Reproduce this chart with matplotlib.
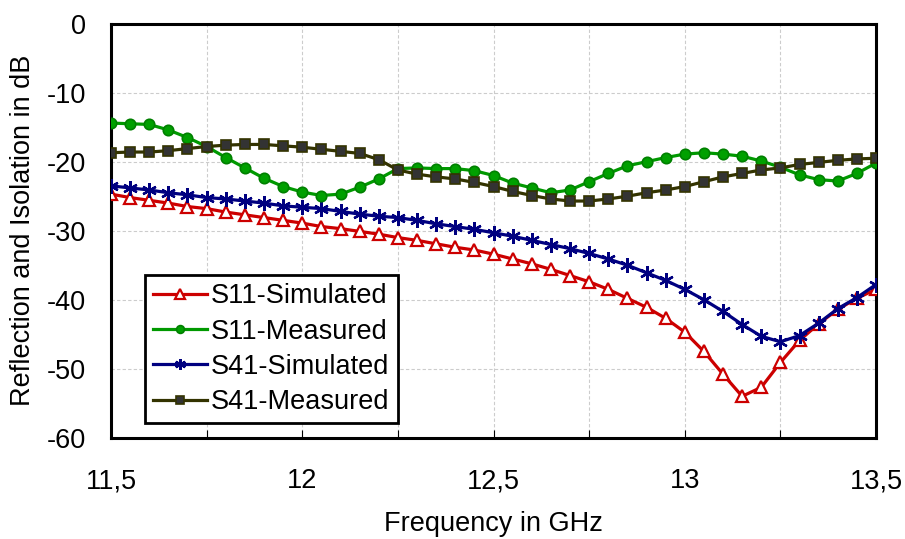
import numpy as np
import matplotlib
matplotlib.use("Agg")
import matplotlib.pyplot as plt
from matplotlib.ticker import MultipleLocator, FuncFormatter

plt.rcParams['font.family'] = ['Liberation Sans', 'DejaVu Sans']
plt.rcParams['axes.unicode_minus'] = False

freq = [11.5 + 0.05 * i for i in range(41)]

s11_sim = [-24.7, -25.2, -25.6, -26.0, -26.5, -26.8, -27.3, -27.7, -28.1, -28.5,
           -28.9, -29.4, -29.7, -30.1, -30.5, -31.0, -31.4, -31.9, -32.4, -32.8,
           -33.4, -34.1, -34.8, -35.6, -36.5, -37.4, -38.5, -39.8, -41.1, -42.7,
           -44.7, -47.5, -50.8, -54.0, -52.7, -49.1, -45.9, -43.5, -41.4, -39.8,
           -38.5]
s11_meas = [-14.4, -14.5, -14.6, -15.4, -16.5, -17.8, -19.4, -20.9, -22.4, -23.6,
            -24.4, -24.9, -24.7, -23.7, -22.5, -21.0, -20.9, -21.0, -21.0, -21.3,
            -22.0, -23.1, -23.8, -24.5, -24.1, -22.9, -21.7, -20.6, -20.0, -19.4,
            -18.9, -18.7, -18.9, -19.2, -19.9, -20.8, -21.9, -22.6, -22.8, -21.7,
            -20.2]
s41_sim = [-23.5, -23.8, -24.1, -24.5, -24.8, -25.2, -25.4, -25.7, -26.0, -26.4,
           -26.6, -26.8, -27.2, -27.6, -27.9, -28.1, -28.5, -29.0, -29.4, -29.8,
           -30.3, -30.8, -31.4, -32.0, -32.6, -33.3, -34.1, -35.0, -36.1, -37.2,
           -38.5, -40.0, -41.7, -43.6, -45.3, -46.1, -45.2, -43.4, -41.3, -39.7,
           -37.8]
s41_meas = [-18.7, -18.6, -18.6, -18.4, -18.1, -17.8, -17.6, -17.5, -17.5, -17.7,
            -17.9, -18.2, -18.5, -18.8, -19.7, -21.2, -21.8, -22.2, -22.5, -23.0,
            -23.6, -24.3, -24.9, -25.4, -25.7, -25.7, -25.4, -25.0, -24.5, -24.1,
            -23.6, -22.9, -22.2, -21.7, -21.2, -20.9, -20.4, -20.1, -19.8, -19.6,
            -19.5]

labels = ["S11-Simulated", "S11-Measured", "S41-Simulated", "S41-Measured"]

FS = 19.5

fig = plt.figure(figsize=(9.05, 5.39), dpi=100)
ax = fig.add_axes([111/905, 1-437.7/539, (876-111)/905, (437.7-23.7)/539])

lw = 2.3
ax.plot(freq, s11_sim, color='#CC0000', lw=lw, marker='^', ms=9, mfc='white',
        mec='#CC0000', mew=1.6, label=labels[0], zorder=3)
ax.plot(freq, s11_meas, color='#009900', lw=lw, marker='o', ms=7.5, mfc='#00A000',
        mec='#008000', mew=1.2, label=labels[1], zorder=4)
ax.plot(freq, s41_sim, color='#000080', lw=lw, marker=(6, 2, 0), ms=10.5,
        mec='#000080', mew=1.7, label=labels[2], zorder=3)
ax.plot(freq, s41_meas, color='#333300', lw=lw, marker='s', ms=7.5, mfc='#333333',
        mec='#333300', mew=1.2, label=labels[3], zorder=5)

ax.set_xlim(11.5, 13.5)
ax.set_ylim(-60, 0)
ax.xaxis.set_major_locator(MultipleLocator(0.5))
ax.xaxis.set_minor_locator(MultipleLocator(0.25))
ax.yaxis.set_major_locator(MultipleLocator(10))
fmt = FuncFormatter(lambda v, p: ('%g' % v).replace('.', ','))
ax.xaxis.set_major_formatter(fmt)

ax.grid(True, which='both', axis='x', color='#CCCCCC', ls=(0, (3, 2)), lw=0.8)
ax.grid(True, which='major', axis='y', color='#CCCCCC', ls=(0, (3, 2)), lw=0.8)
ax.set_axisbelow(True)

ax.tick_params(axis='x', which='both', direction='in', length=6, width=0.8,
               labelsize=FS, pad=22)
ax.tick_params(axis='y', which='both', length=0, labelsize=FS, pad=18)
for s in ax.spines.values():
    s.set_linewidth(2.2)
    s.set_color('black')

ax.set_xlabel("Frequency in GHz", fontsize=FS, labelpad=12)
ax.set_ylabel("Reflection and Isolation in dB", fontsize=FS, labelpad=8)

leg = ax.legend(loc='lower left', bbox_to_anchor=(0.044, 0.035), fontsize=FS,
                frameon=True, fancybox=False, edgecolor='black', framealpha=1,
                handlelength=2.0, handletextpad=0.15, labelspacing=0.34,
                borderpad=0.3, borderaxespad=0.0, numpoints=1, markerscale=0.75)
leg.get_frame().set_linewidth(2.0)

fig.savefig("out.png", dpi=100)
